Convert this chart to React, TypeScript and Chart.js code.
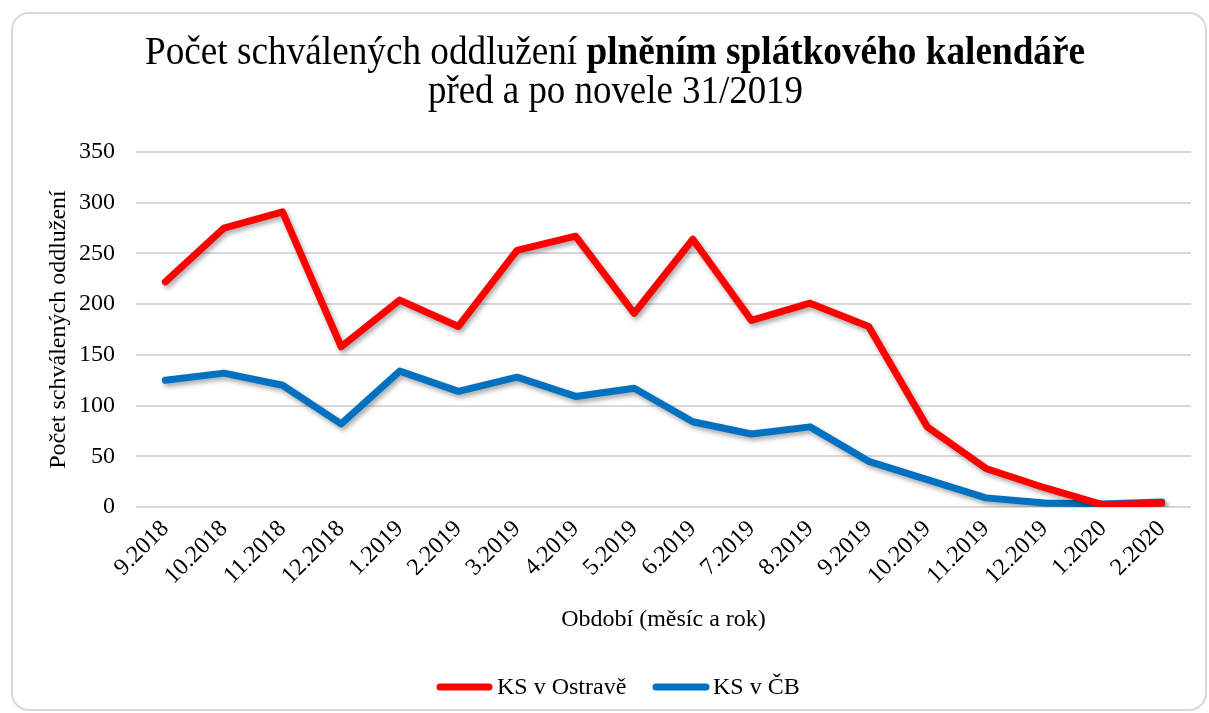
import { useEffect, useRef } from "react";
import { Chart, registerables } from "chart.js";

Chart.register(...registerables);

const categories = [
  "9.2018", "10.2018", "11.2018", "12.2018", "1.2019", "2.2019", "3.2019", "4.2019", "5.2019",
  "6.2019", "7.2019", "8.2019", "9.2019", "10.2019", "11.2019", "12.2019", "1.2020", "2.2020",
];
const ostravaValues = [222, 275, 291, 158, 204, 178, 253, 267, 191, 264, 184, 201, 178, 79, 38, 19, 2, 4];
const cbValues = [125, 132, 120, 82, 134, 114, 128, 109, 117, 84, 72, 79, 45, 27, 9, 4, 3, 5];
const yMin = 0;
const yMax = 350;
const yStep = 50;
const seriesLabels = ["KS v Ostravě", "KS v ČB"];
const seriesColors = ["#FF0000", "#0070C0"];
const titleNormal = "Počet schválených oddlužení ";
const titleBold = "plněním splátkového kalendáře";
const titleLine2 = "před a po novele 31/2019";
const yAxisTitle = "Počet schválených oddlužení";
const xAxisTitle = "Období (měsíc a rok)";

const FONT = '"Liberation Serif", "Times New Roman", serif';
const FS = 24;

const shadowPlugin = {
  id: "lineShadow",
  beforeDatasetDraw(chart: any) {
    const ctx = chart.ctx;
    ctx.save();
    ctx.shadowColor = "rgba(0,0,0,0.35)";
    ctx.shadowBlur = 5;
    ctx.shadowOffsetX = 2;
    ctx.shadowOffsetY = 3;
  },
  afterDatasetDraw(chart: any) {
    chart.ctx.restore();
  },
};

const titlePlugin = {
  id: "customTitle",
  afterDraw(chart: any) {
    const ctx = chart.ctx as CanvasRenderingContext2D;
    ctx.save();
    ctx.fillStyle = "#000";
    ctx.textBaseline = "alphabetic";
    ctx.textAlign = "left";
    const size = 40;
    ctx.font = `${size}px ${FONT}`;
    const w1 = ctx.measureText(titleNormal).width;
    ctx.font = `bold ${size}px ${FONT}`;
    const w2 = ctx.measureText(titleBold).width;
    const s1 = 940 / (w1 + w2);
    ctx.save();
    ctx.translate(145, 64);
    ctx.scale(s1, 1);
    ctx.font = `${size}px ${FONT}`;
    ctx.fillText(titleNormal, 0, 0);
    ctx.font = `bold ${size}px ${FONT}`;
    ctx.fillText(titleBold, w1, 0);
    ctx.restore();
    ctx.font = `${size}px ${FONT}`;
    const w3 = ctx.measureText(titleLine2).width;
    const s2 = 375 / w3;
    ctx.save();
    ctx.translate(428, 103);
    ctx.scale(s2, 1);
    ctx.fillText(titleLine2, 0, 0);
    ctx.restore();
    ctx.restore();
  },
};

const legendPlugin = {
  id: "customLegend",
  afterDraw(chart: any) {
    const ctx = chart.ctx as CanvasRenderingContext2D;
    const y = 687;
    const items = [
      { x0: 440, x1: 489, tx: 497 },
      { x0: 656, x1: 706, tx: 713 },
    ];
    ctx.save();
    ctx.font = `${FS}px ${FONT}`;
    ctx.textBaseline = "middle";
    ctx.textAlign = "left";
    chart.data.datasets.forEach((ds: any, i: number) => {
      const it = items[i];
      ctx.strokeStyle = ds.borderColor;
      ctx.lineWidth = 7;
      ctx.lineCap = "round";
      ctx.beginPath();
      ctx.moveTo(it.x0, y);
      ctx.lineTo(it.x1, y);
      ctx.stroke();
      ctx.fillStyle = "#000";
      ctx.fillText(ds.label, it.tx, y + 1);
    });
    ctx.restore();
  },
};

export default function App() {
  const canvasRef = useRef<HTMLCanvasElement | null>(null);

  useEffect(() => {
    document.body.style.margin = "0";
    const canvas = canvasRef.current;
    if (!canvas) return;
    const chart = new Chart(canvas, {
      type: "line",
      data: {
        labels: categories,
        datasets: [
          {
            label: seriesLabels[0],
            data: ostravaValues,
            borderColor: seriesColors[0],
            backgroundColor: seriesColors[0],
            borderWidth: 7,
            pointRadius: 0,
            pointHoverRadius: 0,
            borderJoinStyle: "round",
            borderCapStyle: "round",
            tension: 0,
          },
          {
            label: seriesLabels[1],
            data: cbValues,
            borderColor: seriesColors[1],
            backgroundColor: seriesColors[1],
            borderWidth: 7,
            pointRadius: 0,
            pointHoverRadius: 0,
            borderJoinStyle: "round",
            borderCapStyle: "round",
            tension: 0,
          },
        ],
      },
      options: {
        responsive: false,
        animation: false,
        devicePixelRatio: 1,
        layout: { padding: { top: 152, left: 0, right: 18, bottom: 76 } },
        plugins: {
          legend: { display: false },
          title: { display: false },
          tooltip: { enabled: false },
        },
        scales: {
          x: {
            type: "category",
            offset: true,
            grid: { display: false, drawTicks: false },
            border: { display: false },
            ticks: {
              color: "#000",
              font: { family: FONT, size: FS },
              minRotation: 45,
              maxRotation: 45,
              padding: 8,
              autoSkip: false,
            },
            title: {
              display: true,
              text: xAxisTitle,
              color: "#000",
              font: { family: FONT, size: FS },
              padding: { top: 0, bottom: 3 },
            },
            afterFit(scale: any) {
              scale.height = 130;
            },
          },
          y: {
            min: yMin,
            max: yMax,
            grid: { color: "#d9d9d9", lineWidth: 2, drawTicks: false },
            border: { display: false },
            ticks: {
              stepSize: yStep,
              color: "#000",
              font: { family: FONT, size: FS },
              padding: 21,
            },
            title: {
              display: true,
              text: yAxisTitle,
              color: "#000",
              font: { family: FONT, size: FS },
              padding: { top: 44, bottom: 0 },
            },
            afterFit(scale: any) {
              scale.width = 136;
            },
          },
        },
      },
      plugins: [shadowPlugin, titlePlugin, legendPlugin],
    } as any);
    return () => chart.destroy();
  }, []);

  return (
    <div style={{ position: "relative", width: 1209, height: 713, overflow: "hidden", background: "#fff" }}>
      <div
        style={{
          position: "absolute",
          left: 11,
          top: 12,
          width: 1196,
          height: 699,
          border: "2px solid #d9d9d9",
          borderRadius: 18,
          boxSizing: "border-box",
        }}
      />
      <canvas ref={canvasRef} width={1209} height={713} style={{ position: "absolute", left: 0, top: 0 }} />
    </div>
  );
}
